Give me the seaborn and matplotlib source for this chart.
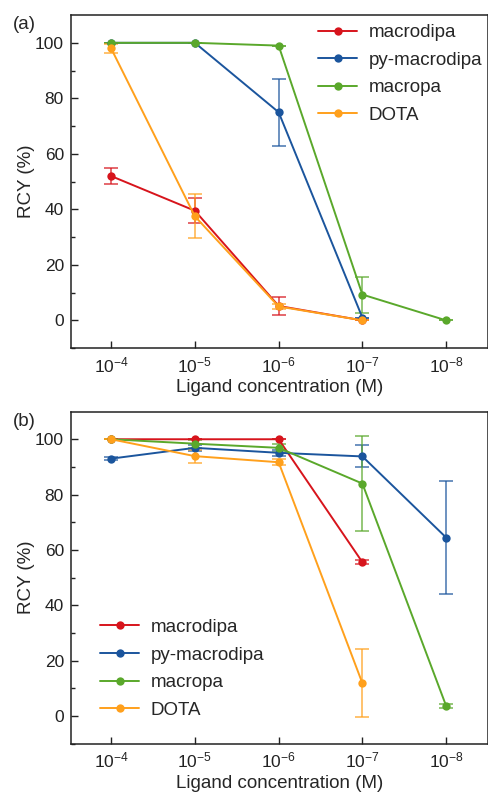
import numpy as np
import pandas as pd
import seaborn as sns
import matplotlib.pyplot as plt

# x categories (ligand concentration, M)
conc_labels = ['$10^{-4}$', '$10^{-5}$', '$10^{-6}$', '$10^{-7}$', '$10^{-8}$']
ligands = ['macrodipa', 'py-macrodipa', 'macropa', 'DOTA']
colors = ['#d7141c', '#1b559d', '#5aa82b', '#ffa01c']

# panel (a) RCY (%) and errors
a_macrodipa = [52, 39.5, 5.2, 0, np.nan]
a_macrodipa_err = [3, 4.5, 3.3, 0, np.nan]
a_pymacrodipa = [100, 100, 75, 1, np.nan]
a_pymacrodipa_err = [0, 0, 12, 0, np.nan]
a_macropa = [100, 100, 99, 9.3, 0]
a_macropa_err = [0, 0, 0, 6.5, 0]
a_dota = [98, 37.5, 5, 0, np.nan]
a_dota_err = [1.5, 8, 1, 0, np.nan]

# panel (b)
b_macrodipa = [100, 100, 100, 55.6, np.nan]
b_macrodipa_err = [0, 0, 0, 0.7, np.nan]
b_pymacrodipa = [93, 96.9, 95.1, 93.8, 64.5]
b_pymacrodipa_err = [0.5, 1, 1, 4, 20.5]
b_macropa = [100, 98.4, 96.9, 84, 3.7]
b_macropa_err = [0, 1.5, 1.5, 17.3, 0.7]
b_dota = [100, 93.9, 91.7, 11.9, np.nan]
b_dota_err = [0, 2.4, 1, 12.2, np.nan]

panel_a = [(a_macrodipa, a_macrodipa_err), (a_pymacrodipa, a_pymacrodipa_err),
           (a_macropa, a_macropa_err), (a_dota, a_dota_err)]
panel_b = [(b_macrodipa, b_macrodipa_err), (b_pymacrodipa, b_pymacrodipa_err),
           (b_macropa, b_macropa_err), (b_dota, b_dota_err)]

sns.set_style('ticks')
plt.rcParams['font.family'] = ['Liberation Sans', 'DejaVu Sans']
plt.rcParams['mathtext.fontset'] = 'custom'
plt.rcParams['mathtext.rm'] = 'Liberation Sans'
plt.rcParams['mathtext.it'] = 'Liberation Sans:italic'
plt.rcParams['mathtext.bf'] = 'Liberation Sans:bold'


def make_df(panel):
    rows = []
    for name, (vals, errs) in zip(ligands, panel):
        for i, (v, e) in enumerate(zip(vals, errs)):
            rows.append({'pos': i, 'rcy': v, 'err': e, 'ligand': name})
    return pd.DataFrame(rows).dropna()


fig = plt.figure(figsize=(4.89, 7.93), dpi=100)
ax1 = fig.add_axes([0.145, 0.561, 0.853, 0.420])
ax2 = fig.add_axes([0.145, 0.062, 0.853, 0.419])

# legend placement: (loc, anchor in axes coords)
for ax, panel, tag, loc, anchor in [(ax1, panel_a, '(a)', 'upper right', (0.986, 0.973)),
                                    (ax2, panel_b, '(b)', 'lower left', (0.07, 0.075))]:
    df = make_df(panel)
    for name, c in zip(ligands, colors):
        sub = df[df['ligand'] == name]
        ax.errorbar(sub['pos'], sub['rcy'], yerr=sub['err'], fmt='none',
                    ecolor=c, elinewidth=1.2, capsize=5, capthick=1.2, alpha=0.75)
    sns.lineplot(data=df, x='pos', y='rcy', hue='ligand', hue_order=ligands,
                 palette=colors, marker='o', markersize=6, markeredgewidth=0,
                 linewidth=1.4, ax=ax, errorbar=None, sort=False)
    ax.set_xlim(-0.48, 4.5)
    ax.set_ylim(-10, 110)
    ax.set_xticks(range(5))
    ax.set_xticklabels(conc_labels)
    ax.set_yticks([0, 20, 40, 60, 80, 100])
    ax.set_yticks(np.arange(-10, 110, 10), minor=True)
    ax.tick_params(direction='in', labelsize=12.5, length=5, width=1, colors='#222222')
    ax.tick_params(which='minor', direction='in', length=3, width=1, colors='#222222')
    ax.tick_params(axis='x', pad=5)
    ax.tick_params(axis='y', pad=5)
    for s in ax.spines.values():
        s.set_linewidth(1.1)
        s.set_color('#222222')
    ax.set_xlabel('Ligand concentration (M)', fontsize=13.5, labelpad=3)
    ax.set_ylabel('RCY (%)', fontsize=13.5, labelpad=0)
    ax.text(-0.14, 0.997, tag, transform=ax.transAxes, fontsize=13.5, va='top', ha='left')
    leg = ax.legend(loc=loc, bbox_to_anchor=anchor, frameon=False, fontsize=13.5,
                    handlelength=2.1, handletextpad=0.6, labelspacing=0.56,
                    borderpad=0, borderaxespad=0)
    for line in leg.get_lines():
        line.set_linewidth(1.4)

fig.savefig('out.png', dpi=100)
